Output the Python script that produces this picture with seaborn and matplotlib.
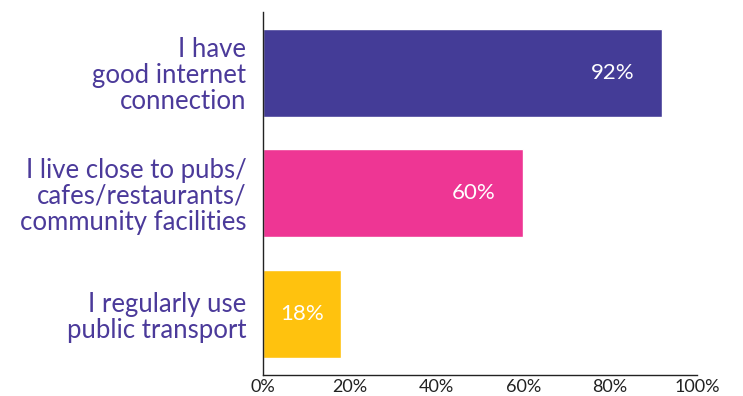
import matplotlib
matplotlib.use("Agg")
import matplotlib.pyplot as plt
import seaborn as sns
import pandas as pd

categories = ["I have\ngood internet\nconnection",
              "I live close to pubs/\ncafes/restaurants/\ncommunity facilities",
              "I regularly use\npublic transport"]
values = [92, 60, 18]
colors = ["#443C97", "#EE3694", "#FFC20E"]
xticks = [0, 20, 40, 60, 80, 100]
xtick_labels = ["0%", "20%", "40%", "60%", "80%", "100%"]

sns.set_theme(style="white")
plt.rcParams['font.family'] = ['Lato', 'DejaVu Sans']

df = pd.DataFrame({"cat": categories, "val": values})

fig = plt.figure(figsize=(7.43, 3.96), dpi=100)
ax = fig.add_axes([0.354, 0.053, 0.584, 0.917])
sns.barplot(data=df, x="val", y="cat", hue="cat", palette=colors,
            legend=False, width=0.73, ax=ax, saturation=1)

ax.set_xlim(0, 100)
ax.set_ylim(2.506, -0.506)
ax.set_xticks(xticks)
ax.set_xticklabels(xtick_labels, fontsize=13, color="#222222")
ax.tick_params(axis="x", direction="in", length=10, width=1, color="#222222", pad=3)
ax.tick_params(axis="y", length=0, pad=12)
for lab in ax.get_yticklabels():
    lab.set_fontsize(18.5)
    lab.set_color("#4B3A9A")
    lab.set_multialignment("right")
    lab.set_linespacing(1.05)
ax.set_xlabel("")
ax.set_ylabel("")
for s in ["top", "right"]:
    ax.spines[s].set_visible(False)
for s in ["left", "bottom"]:
    ax.spines[s].set_color("#222222")
    ax.spines[s].set_linewidth(1)

for i, v in enumerate(values):
    ax.text(v - min(11.5, v / 2), i, f"{v}%", ha="center", va="center",
            color="white", fontsize=16)

fig.savefig("out.png", dpi=100)
